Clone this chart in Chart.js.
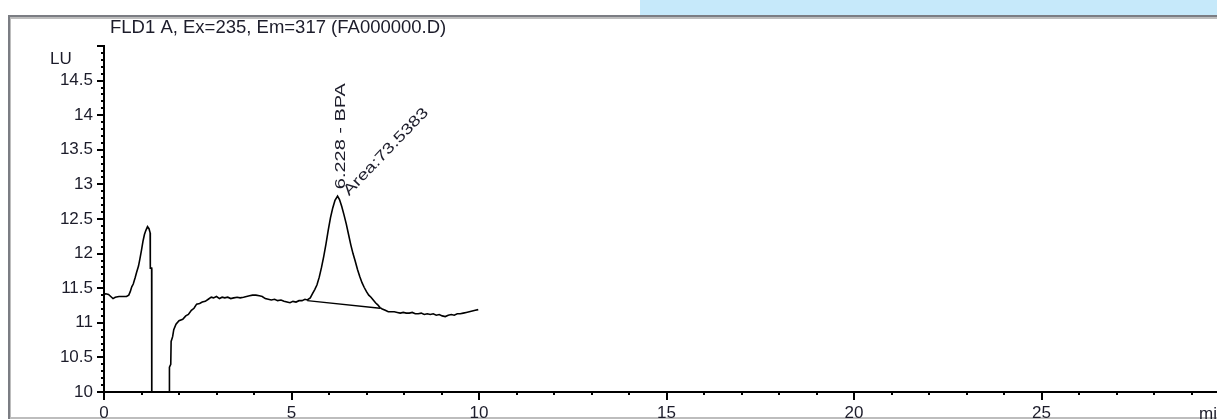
<!DOCTYPE html>
<html>
<head>
<meta charset="utf-8">
<script src="https://cdn.jsdelivr.net/npm/chart.js@4"></script>
<style>
  html, body { margin: 0; padding: 0; background: #fff; overflow: hidden; }
  #wrap { width: 1217px; height: 419px; position: relative; }
</style>
</head>
<body>
<div id="wrap"><canvas id="c" width="1217" height="419"></canvas></div>
<script>
// FLD signal, retention time in minutes
const signalTime = [
  0.00, 0.05, 0.12, 0.18, 0.24, 0.30, 0.40, 0.50, 0.60, 0.66,
  0.70, 0.74, 0.78, 0.83, 0.87, 0.92, 0.96, 1.00, 1.04, 1.08,
  1.12, 1.16, 1.20, 1.23, 1.235, 1.27, 1.275, 1.74, 1.745, 1.78,
  1.79, 1.83, 1.86, 1.92, 2.00, 2.10, 2.18, 2.25, 2.33, 2.40,
  2.47, 2.55, 2.62, 2.70, 2.78, 2.86, 2.92, 3.00, 3.08, 3.15,
  3.22, 3.30, 3.38, 3.46, 3.55, 3.63, 3.72, 3.80, 3.88, 3.96,
  4.05, 4.14, 4.22, 4.30, 4.38, 4.46, 4.55, 4.63, 4.72, 4.80,
  4.88, 4.96, 5.04, 5.12, 5.20, 5.28, 5.36, 5.42, 5.50, 5.56,
  5.62, 5.68, 5.74, 5.80, 5.86, 5.92, 5.98, 6.04, 6.10, 6.16,
  6.228, 6.28, 6.34, 6.40, 6.46, 6.52, 6.58, 6.64, 6.70, 6.76,
  6.82, 6.88, 6.94, 7.00, 7.06, 7.12, 7.18, 7.24, 7.30, 7.36,
  7.42, 7.50, 7.58, 7.66, 7.74, 7.82, 7.90, 7.98, 8.06, 8.14,
  8.22, 8.30, 8.38, 8.46, 8.54, 8.62, 8.70, 8.78, 8.86, 8.94,
  9.02, 9.10, 9.18, 9.26, 9.34, 9.42, 9.50, 9.58, 9.66, 9.74,
  9.82, 9.90, 9.98
];
// detector response, LU (the dip around 1.3-1.7 min runs off the bottom of the scale)
const signalLU = [
  11.41, 11.42, 11.41, 11.38, 11.35, 11.37, 11.38, 11.38, 11.38, 11.40,
  11.45, 11.52, 11.56, 11.65, 11.73, 11.82, 11.93, 12.05, 12.18, 12.28,
  12.34, 12.39, 12.36, 12.30, 11.79, 11.79, 9.00, 9.00, 10.36, 10.40,
  10.73, 10.80, 10.90, 10.98, 11.03, 11.05, 11.10, 11.12, 11.18, 11.21,
  11.27, 11.28, 11.30, 11.31, 11.34, 11.37, 11.36, 11.38, 11.35, 11.37,
  11.36, 11.37, 11.35, 11.36, 11.37, 11.36, 11.37, 11.38, 11.39, 11.40,
  11.40, 11.39, 11.38, 11.35, 11.34, 11.33, 11.34, 11.32, 11.33, 11.31,
  11.30, 11.29, 11.31, 11.30, 11.32, 11.32, 11.34, 11.33, 11.36, 11.42,
  11.48, 11.55, 11.66, 11.80, 11.96, 12.14, 12.34, 12.52, 12.66, 12.77,
  12.83, 12.78, 12.68, 12.56, 12.43, 12.28, 12.13, 12.00, 11.89, 11.77,
  11.67, 11.58, 11.51, 11.45, 11.40, 11.37, 11.33, 11.29, 11.26, 11.22,
  11.20, 11.18, 11.16, 11.16, 11.16, 11.15, 11.14, 11.15, 11.14, 11.14,
  11.15, 11.13, 11.13, 11.14, 11.12, 11.13, 11.12, 11.13, 11.11, 11.12,
  11.10, 11.09, 11.11, 11.12, 11.11, 11.13, 11.13, 11.14, 11.15, 11.16,
  11.17, 11.18, 11.19
];

// integration baseline under the BPA peak
const baselineTime = [5.42, 7.36];
const baselineLU = [11.32, 11.21];

// peak annotation
const peakTime = 6.228;
const peakHeight = 12.83;
const peakName = 'BPA';
const peakArea = 73.5383;

// axes
const xRange = [0, 29.68];
const yRange = [10, 15];
const xMajorStep = 5;
const yMajorStep = 0.5;

const titleText = 'FLD1 A, Ex=235, Em=317 (FA000000.D)';
const yUnit = 'LU';
const xUnit = 'min';

const FONT = '"Liberation Sans", Arial, sans-serif';
const TEXT = '#1c1c2a';

const toPoints = (xs, ys) => xs.map((x, i) => ({ x, y: ys[i] }));

// window frame, title, minor ticks and peak labels
const decor = {
  id: 'decor',
  beforeDraw(chart) {
    const ctx = chart.ctx;
    ctx.save();
    ctx.fillStyle = '#ffffff';
    ctx.fillRect(0, 0, chart.width, chart.height);
    ctx.fillStyle = '#c6e9fa';
    ctx.fillRect(640, 0, chart.width - 640, 15);
    // frame
    ctx.fillStyle = '#7b7d83';
    ctx.fillRect(8, 15, chart.width - 8, 2);
    ctx.fillRect(8, 15, 2, chart.height - 15);
    ctx.fillStyle = '#bdbdbd';
    ctx.fillRect(10, 17, chart.width - 10, 2);
    ctx.fillRect(10, 17, 1, chart.height - 17);
    ctx.fillRect(10, chart.height - 2, chart.width - 10, 2);
    ctx.restore();
  },
  afterDraw(chart) {
    const ctx = chart.ctx;
    const xs = chart.scales.x, ys = chart.scales.y;
    const area = chart.chartArea;
    ctx.save();

    // minor ticks
    ctx.strokeStyle = '#000';
    ctx.lineWidth = 2;
    ctx.beginPath();
    for (let m = 1; m < xRange[1]; m++) {
      if (m % xMajorStep === 0) continue;
      const px = Math.round(xs.getPixelForValue(m));
      ctx.moveTo(px, area.bottom);
      ctx.lineTo(px, area.bottom + 3);
    }
    for (let k = 101; k < 150; k++) {
      if (k % 5 === 0) continue;
      const py = Math.round(ys.getPixelForValue(k / 10));
      ctx.moveTo(area.left - 3, py);
      ctx.lineTo(area.left, py);
    }
    ctx.stroke();

    // title
    ctx.fillStyle = TEXT;
    ctx.font = '18.5px ' + FONT;
    ctx.textAlign = 'left';
    ctx.textBaseline = 'alphabetic';
    ctx.fillText(titleText, 110, 33);

    // unit labels
    ctx.font = '17px ' + FONT;
    ctx.fillText(yUnit, 50, 64);
    ctx.fillText(xUnit, 1199, 419);

    // peak labels
    const apx = xs.getPixelForValue(peakTime);
    const apy = ys.getPixelForValue(peakHeight);
    ctx.font = '15px ' + FONT;
    ctx.save();
    ctx.translate(apx + 7.5, apy - 7);
    ctx.rotate(-Math.PI / 2);
    ctx.scale(1.33, 1);
    ctx.fillText(peakTime.toFixed(3) + ' - ' + peakName, 0, 0);
    ctx.restore();

    ctx.save();
    ctx.translate(apx + 11.5, apy);
    ctx.rotate(-46 * Math.PI / 180);
    ctx.scale(1.28, 1);
    ctx.fillText('Area:' + peakArea.toFixed(4), 0, 0);
    ctx.restore();

    ctx.restore();
  }
};

new Chart(document.getElementById('c'), {
  type: 'line',
  data: {
    datasets: [
      {
        data: toPoints(signalTime, signalLU),
        borderColor: '#000',
        borderWidth: 1.6,
        pointRadius: 0,
        tension: 0
      },
      {
        data: toPoints(baselineTime, baselineLU),
        borderColor: '#000',
        borderWidth: 1.3,
        pointRadius: 0,
        tension: 0
      }
    ]
  },
  options: {
    responsive: false,
    animation: false,
    devicePixelRatio: 1,
    layout: { padding: { top: 46, right: 0, bottom: 0, left: 0 } },
    plugins: { legend: { display: false }, tooltip: { enabled: false }, title: { display: false } },
    scales: {
      x: {
        type: 'linear',
        min: xRange[0],
        max: xRange[1],
        afterFit(s) { s.height = 27; },
        border: { color: '#000', width: 2 },
        grid: { drawOnChartArea: false, drawTicks: true, tickLength: 8, color: '#000', lineWidth: 2 },
        ticks: {
          stepSize: xMajorStep, includeBounds: false, autoSkip: false, maxRotation: 0,
          padding: 3, color: TEXT, font: { family: FONT, size: 17 }
        }
      },
      y: {
        type: 'linear',
        min: yRange[0],
        max: yRange[1],
        afterFit(s) { s.width = 104; },
        border: { color: '#000', width: 2 },
        grid: { drawOnChartArea: false, drawTicks: true, tickLength: 7, color: '#000', lineWidth: 2 },
        ticks: {
          stepSize: yMajorStep, includeBounds: false, autoSkip: false,
          padding: 4, color: TEXT, font: { family: FONT, size: 17 },
          callback: (v) => (v === yRange[1] ? '' : String(v))
        }
      }
    }
  },
  plugins: [decor]
});
</script>
</body>
</html>
